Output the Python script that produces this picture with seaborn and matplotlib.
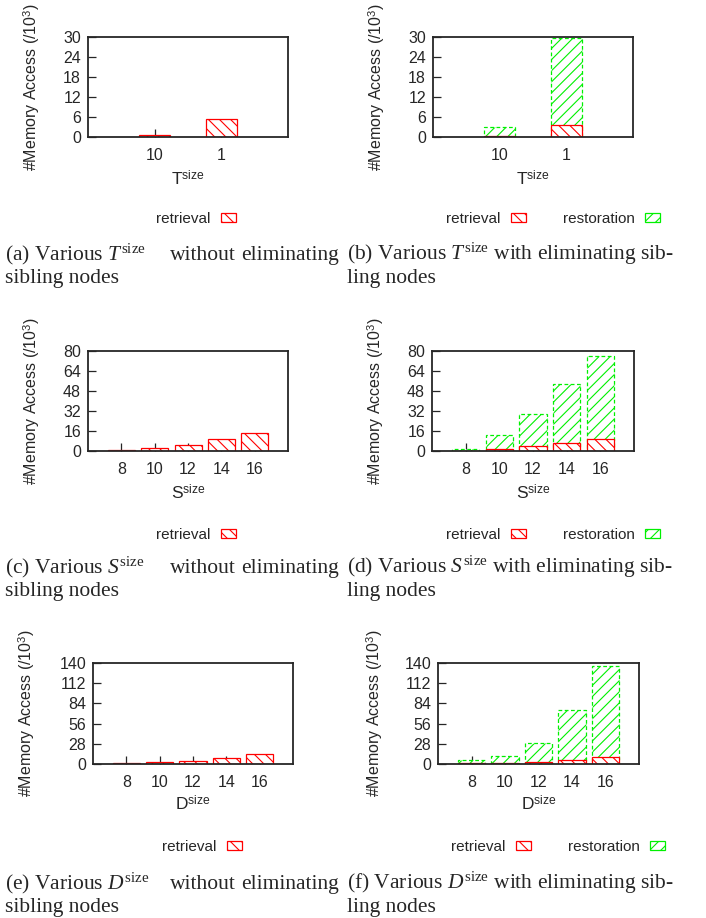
import numpy as np
import matplotlib
matplotlib.use("Agg")
import matplotlib.pyplot as plt
import seaborn as sns
from matplotlib.patches import Patch

# ---- data (units of 10^3 memory accesses) ----
t_cats = ["10", "1"]
t_retrieval_plain = [0.6, 5.3]
t_retrieval_elim = [0.3, 3.6]
t_restoration_elim = [2.7, 26.0]

s_cats = ["8", "10", "12", "14", "16"]
s_retrieval_plain = [1.0, 2.5, 5.0, 9.6, 14.4]
s_retrieval_elim = [0.3, 1.6, 4.0, 6.7, 9.4]
s_restoration_elim = [1.7, 11.0, 26.0, 47.3, 66.6]

d_cats = ["8", "10", "12", "14", "16"]
d_retrieval_plain = [2.0, 3.4, 4.8, 9.0, 13.2]
d_retrieval_elim = [1.2, 2.0, 3.2, 6.0, 9.7]
d_restoration_elim = [3.9, 8.7, 25.8, 68.6, 126.6]

captions = [
    ("(a)", "T", "without eliminating", "sibling nodes"),
    ("(b)", "T", "with eliminating sib-", "ling nodes"),
    ("(c)", "S", "without eliminating", "sibling nodes"),
    ("(d)", "S", "with eliminating sib-", "ling nodes"),
    ("(e)", "D", "without eliminating", "sibling nodes"),
    ("(f)", "D", "with eliminating sib-", "ling nodes"),
]

sns.set_style("ticks")
plt.rcParams["font.family"] = ["Liberation Sans", "DejaVu Sans"]
plt.rcParams["mathtext.fontset"] = "custom"
plt.rcParams["mathtext.rm"] = "Liberation Serif"
plt.rcParams["mathtext.it"] = "Liberation Serif:italic"
plt.rcParams["mathtext.sf"] = "Liberation Sans"
plt.rcParams["hatch.linewidth"] = 0.8

W, H = 706, 918
fig = plt.figure(figsize=(W / 100, H / 100), dpi=100)

RED = "#ff0000"
GREEN = "#00f000"
RET_HATCH = "\\\\\\"
RES_HATCH = "///"


def add_axes_px(left, top, right, bottom):
    return fig.add_axes([left / W, 1 - bottom / H, (right - left) / W, (bottom - top) / H])


def style_axes(ax, ymax, ystep, ncat, xname, label_x, xlabel_y):
    ax.set_ylim(0, ymax)
    ax.set_yticks(np.arange(0, ymax + 1, ystep))
    ax.set_xlim(-1, ncat)
    ax.tick_params(axis="both", direction="in", length=6, width=0.9,
                   labelsize=11.5, top=False, right=False)
    ax.tick_params(axis="x", pad=8)
    ax.tick_params(axis="y", pad=5)
    for sp in ax.spines.values():
        sp.set_visible(True)
        sp.set_linewidth(1.3)
        sp.set_zorder(4)
    ax.set_ylabel(r"#Memory Access (/10$^{\mathsf{3}}$)", fontsize=11.5)
    ax.yaxis.set_label_coords(label_x, 0.5)
    ax.set_xlabel(xname + r"$^{\mathsf{size}}$", fontsize=12.5, va="top")
    ax.xaxis.set_label_coords(0.5, xlabel_y)


def plain_panel(ax, cats, ret, width):
    sns.barplot(x=cats, y=ret, ax=ax, width=width, color="white", edgecolor=RED,
                hatch=RET_HATCH, linewidth=0.9, errorbar=None, zorder=3)


def elim_panel(ax, cats, ret, res, width):
    total = [a + b for a, b in zip(ret, res)]
    sns.barplot(x=cats, y=total, ax=ax, width=width, color="white", edgecolor=GREEN,
                hatch=RES_HATCH, linewidth=0.9, linestyle=(0, (3, 2)), errorbar=None, zorder=3)
    sns.barplot(x=cats, y=ret, ax=ax, width=width, color="white", edgecolor=RED,
                hatch=RET_HATCH, linewidth=0.9, errorbar=None, zorder=3)


def legend(ax, cx, cy, with_res):
    handles = [Patch(facecolor="white", edgecolor=RED, hatch=RET_HATCH, linewidth=0.9,
                     label="retrieval")]
    if with_res:
        handles.append(Patch(facecolor="white", edgecolor=GREEN, hatch=RES_HATCH,
                             linewidth=0.9, label="restoration"))
    ax.legend(handles=handles, loc="center", bbox_to_anchor=(cx / W, 1 - cy / H),
              bbox_transform=fig.transFigure, frameon=False, markerfirst=False,
              ncol=len(handles), fontsize=11, handlelength=1.0, handleheight=0.55,
              handletextpad=0.7, columnspacing=2.4)


# row 1 : T size
ax = add_axes_px(88, 37, 288, 137)
plain_panel(ax, t_cats, t_retrieval_plain, 0.46)
style_axes(ax, 30, 6, 2, "T", -0.23, -0.32)
legend(ax, 196, 219, False)

ax = add_axes_px(433, 37, 633, 137)
elim_panel(ax, t_cats, t_retrieval_elim, t_restoration_elim, 0.46)
style_axes(ax, 30, 6, 2, "T", -0.23, -0.32)
legend(ax, 553, 219, True)

# row 2 : S size
ax = add_axes_px(88, 351, 288, 451)
plain_panel(ax, s_cats, s_retrieval_plain, 0.81)
style_axes(ax, 80, 16, 5, "S", -0.23, -0.32)
legend(ax, 196, 535, False)

ax = add_axes_px(432, 351, 634, 451)
elim_panel(ax, s_cats, s_retrieval_elim, s_restoration_elim, 0.82)
style_axes(ax, 80, 16, 5, "S", -0.23, -0.32)
legend(ax, 553, 535, True)

# row 3 : D size
ax = add_axes_px(93, 663, 293, 764)
plain_panel(ax, d_cats, d_retrieval_plain, 0.82)
style_axes(ax, 140, 28, 5, "D", -0.28, -0.30)
legend(ax, 202, 847, False)

ax = add_axes_px(438, 663, 639, 764)
elim_panel(ax, d_cats, d_retrieval_elim, d_restoration_elim, 0.82)
style_axes(ax, 140, 28, 5, "D", -0.265, -0.30)
legend(ax, 558, 847, True)

# captions (left column justified like the paper)
cap_font = dict(family="Liberation Serif", fontsize=15.5, va="baseline")
baselines = [260, 573, 889]
for i, (tag, sym, rest, line2) in enumerate(captions):
    row, col = divmod(i, 2)
    y1 = 1 - baselines[row] / H
    y2 = 1 - (baselines[row] + 23) / H
    head = tag + " Various $" + sym + r"^{\mathrm{size}}$"
    if col == 0:
        x0, x1 = 5, 339
        words = rest.split()
        fig.text(x0 / W, y1, head, ha="left", **cap_font)
        fig.text(203 / W, y1, words[0], ha="center", **cap_font)
        fig.text(x1 / W, y1, words[1], ha="right", **cap_font)
    else:
        x0 = 347
        fig.text(x0 / W, y1, head + " " + rest, ha="left", **cap_font)
    fig.text(x0 / W, y2, line2, ha="left", **cap_font)

fig.savefig("out.png", dpi=100)
